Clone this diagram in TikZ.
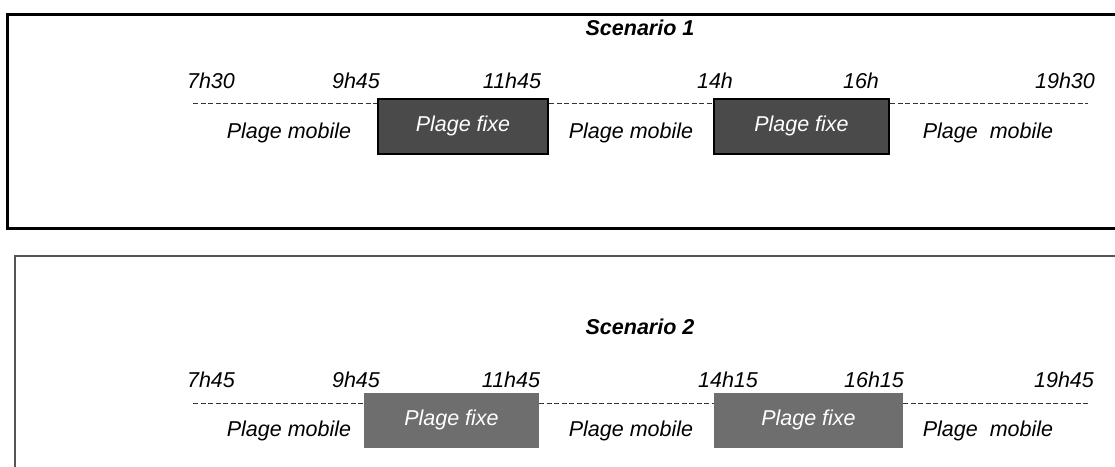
\documentclass[tikz,border=0pt]{standalone}
\usepackage{fontspec}
\setmainfont{Liberation Sans}
\definecolor{fixdark}{HTML}{4A4A4A}
\definecolor{fixgray}{HTML}{6E6E6E}
\definecolor{frametwo}{HTML}{555555}
\definecolor{dashcol}{HTML}{333333}
\begin{document}
\begin{tikzpicture}[x=1pt,y=-1pt,
  lbl/.style={font=\fontsize{21.5}{25}\selectfont\itshape, inner sep=0pt},
  ttl/.style={font=\fontsize{21.5}{25}\selectfont\bfseries\itshape, inner sep=0pt},
  fixbox/.style={font=\fontsize{21.5}{25}\selectfont\itshape, text=white, inner sep=0pt, minimum height=55pt},
  fixone/.style={fixbox, draw=black, line width=2pt, fill=fixdark},
  fixtwo/.style={fixbox, fill=fixgray},
  dashline/.style={draw=dashcol, line width=0.9pt, dash pattern=on 5pt off 2.5pt},
  frameone/.style={draw=black, line width=3pt},
  frametwostyle/.style={draw=frametwo, line width=2pt}]
\clip (0,0) rectangle (1115,466);
\fill[white] (0,0) rectangle (1115,466);
% frames
\draw[frameone] (1130,14) -- (7,14) -- (7,228) -- (1130,228);
\draw[frametwostyle] (1130,256) -- (15,256) -- (15,480);
% Scenario 1
\node[ttl] (t1) at (640,28) {Scenario 1};
\node[lbl] (a1) at (211,81) {7h30};
\node[lbl] (a2) at (356,81) {9h45};
\node[lbl] (a3) at (512,81) {11h45};
\node[lbl] (a4) at (715,81) {14h};
\node[lbl] (a5) at (861,81) {16h};
\node[lbl] (a6) at (1065,81) {19h30};
\node[fixone, minimum width=170pt] (b1) at (463,126) {Plage fixe};
\node[fixone, minimum width=175pt] (b2) at (801.5,126) {Plage fixe};
\coordinate (d1s) at (193,103);
\coordinate (d1e) at (1088,103);
\draw[dashline] (d1s) -- (d1s -| b1.west);
\draw[dashline] (d1s -| b1.east) -- (d1s -| b2.west);
\draw[dashline] (d1s -| b2.east) -- (d1e);
\node[lbl] (m1) at (289,133) {Plage mobile};
\node[lbl] (m2) at (631,133) {Plage mobile};
\node[lbl] (m3) at (988,133) {Plage\ \ mobile};
% Scenario 2
\node[ttl] (t2) at (640,327) {Scenario 2};
\node[lbl] (c1) at (211,380) {7h45};
\node[lbl] (c2) at (356,380) {9h45};
\node[lbl] (c3) at (511,380) {11h45};
\node[lbl] (c4) at (728,380) {14h15};
\node[lbl] (c5) at (874,380) {16h15};
\node[lbl] (c6) at (1064,380) {19h45};
\node[fixtwo, minimum width=175pt] (e1) at (451.5,420) {Plage fixe};
\node[fixtwo, minimum width=189pt] (e2) at (808.5,420) {Plage fixe};
\coordinate (d2s) at (193,403);
\coordinate (d2e) at (1088,403);
\draw[dashline] (d2s) -- (d2s -| e1.west);
\draw[dashline] (d2s -| e1.east) -- (d2s -| e2.west);
\draw[dashline] (d2s -| e2.east) -- (d2e);
\node[lbl] (n1) at (289,431) {Plage mobile};
\node[lbl] (n2) at (631,431) {Plage mobile};
\node[lbl] (n3) at (988,431) {Plage\ \ mobile};
\end{tikzpicture}
\end{document}
